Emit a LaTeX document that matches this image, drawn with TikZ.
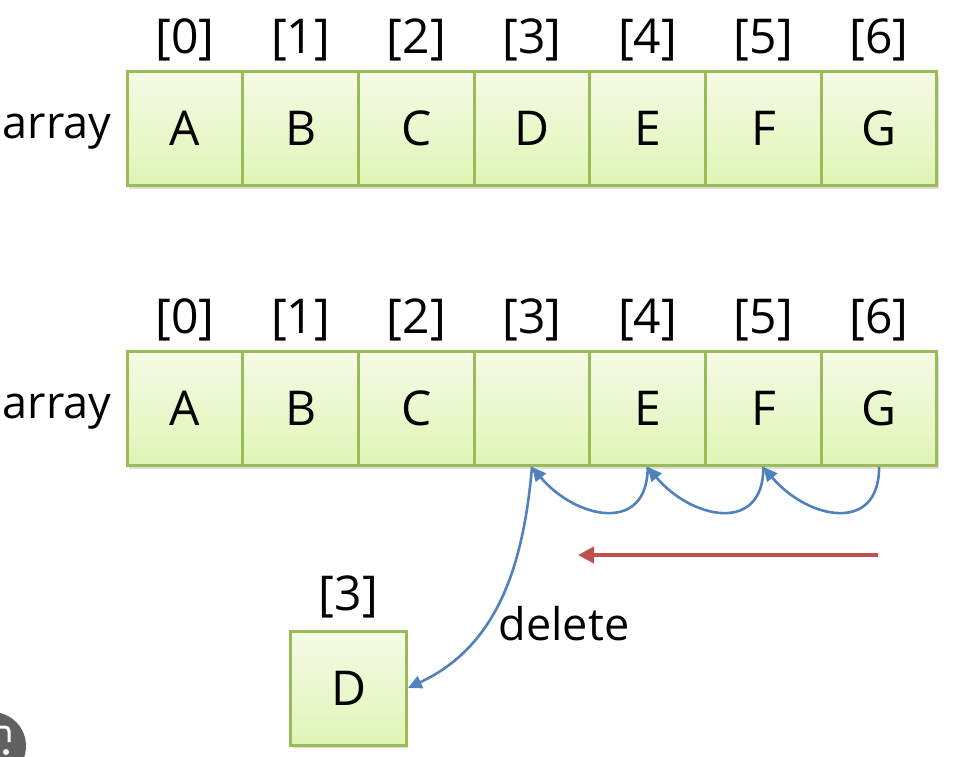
\documentclass[tikz,border=0pt]{standalone}
\usepackage{fontspec}
\setmainfont{Open Sans}
\usetikzlibrary{shadows,arrows.meta}
\definecolor{cellborder}{HTML}{9BBB59}
\definecolor{celltop}{HTML}{F5FBE6}
\definecolor{cellbottom}{HTML}{DFF5B5}
\definecolor{moveblue}{HTML}{4F81BD}
\definecolor{movered}{HTML}{C0504D}
\tikzset{
  cell/.style={draw=cellborder,line width=1.5pt,top color=celltop,bottom color=cellbottom,
    minimum width=57.85pt,minimum height=57pt,inner sep=0pt,
    drop shadow={opacity=0.25,shadow xshift=1pt,shadow yshift=-1.5pt}},
  lbl/.style={anchor=base,inner sep=0pt},
  word/.style={lbl,font=\fontsize{22.5}{27}\selectfont},
  movearrow/.style={draw=moveblue,line width=1.3pt,-{Triangle[length=7pt,width=6.5pt]}},
}
\begin{document}
\begin{tikzpicture}[x=0.5pt,y=-0.5pt,font=\fontsize{24}{29}\selectfont]
  \useasboundingbox (0,0) rectangle (969,756);
  % badge in the corner
  \fill[black!62] (-8,746) circle (34);
  \draw[white,line width=1.5pt,rounded corners=2pt] (-4,727) -- (9,727) -- (9,742);
  \fill[white] (6,752) circle (3);
  % first array
  \draw
    (57,138) node[word] (arr1){array}
    (184.9,128.5) node[cell] (a0){A}
    (300.6,128.5) node[cell] (a1){B}
    (416.3,128.5) node[cell] (a2){C}
    (532.0,128.5) node[cell] (a3){D}
    (647.7,128.5) node[cell] (a4){E}
    (763.4,128.5) node[cell] (a5){F}
    (879.1,128.5) node[cell] (a6){G};
  \draw
    (184.9,53) node[lbl] (ia0){[0]}
    (300.6,53) node[lbl] (ia1){[1]}
    (416.3,53) node[lbl] (ia2){[2]}
    (532.0,53) node[lbl] (ia3){[3]}
    (647.7,53) node[lbl] (ia4){[4]}
    (763.4,53) node[lbl] (ia5){[5]}
    (879.1,53) node[lbl] (ia6){[6]};
  % second array
  \draw
    (57,418) node[word] (arr2){array}
    (184.9,408.5) node[cell] (b0){A}
    (300.6,408.5) node[cell] (b1){B}
    (416.3,408.5) node[cell] (b2){C}
    (532.0,408.5) node[cell] (b3){}
    (647.7,408.5) node[cell] (b4){E}
    (763.4,408.5) node[cell] (b5){F}
    (879.1,408.5) node[cell] (b6){G};
  \draw
    (184.9,333) node[lbl] (ib0){[0]}
    (300.6,333) node[lbl] (ib1){[1]}
    (416.3,333) node[lbl] (ib2){[2]}
    (532.0,333) node[lbl] (ib3){[3]}
    (647.7,333) node[lbl] (ib4){[4]}
    (763.4,333) node[lbl] (ib5){[5]}
    (879.1,333) node[lbl] (ib6){[6]};
  % removed element
  \draw
    (348.5,688) node[cell] (d){D}
    (348.5,610) node[lbl] (id){[3]}
    (564,640) node[word] (del){delete};
  \coordinate (rs) at (878,555);
  \coordinate (re) at (578,555);
  \begin{scope}
    \draw[movearrow] (b6.south) to[out=-90,in=-50,looseness=1.5] (b5.south);
    \draw[movearrow] (b5.south) to[out=-90,in=-50,looseness=1.5] (b4.south);
    \draw[movearrow] (b4.south) to[out=-90,in=-50,looseness=1.5] (b3.south);
    \draw[movearrow] (b3.south) to[out=-95,in=25] (d.east);
    \draw[draw=movered,line width=2pt,-{Triangle[length=8pt,width=8pt]},
      drop shadow={opacity=0.2,shadow xshift=0.8pt,shadow yshift=-1pt}] (rs) -- (re);
  \end{scope}
\end{tikzpicture}
\end{document}
